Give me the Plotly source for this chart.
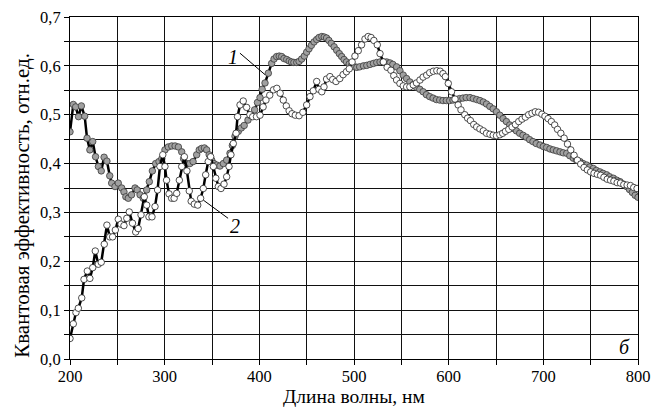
import plotly.graph_objects as go

# Series 1 (grey filled markers)
wl1 = [200, 203.5, 206, 209, 212, 215.5, 218, 221, 224, 227, 230, 233, 236, 239, 242, 244, 247.5, 251, 254.6,
       257, 259, 261.6, 265, 268.7, 271, 274, 277.4, 281, 283.8, 287, 290.5, 294, 297, 300.3, 303.8, 307.5, 311,
       314.5, 318, 320, 323, 326.6, 330, 333.8, 336.5, 339, 342, 344.4, 347, 349.7, 352, 355, 358.4, 362, 365.5,
       369, 371.5, 374.3, 377.8, 381, 384, 388, 391, 395, 398, 400.7, 403, 406, 409.5, 413, 415.5, 418.3, 421,
       423.6, 426, 428.9, 431.5, 434, 436.5, 439.5, 442, 444.7, 447.5, 450, 452.5, 455, 457.8, 460.6, 463, 466,
       468.5, 471, 473.5, 476, 479, 481.7, 484.5, 487, 489.5, 492, 495, 497.6, 500.5, 503, 506, 510, 513.5, 517,
       520.5, 524, 527.5, 531, 534.5, 538, 541, 545, 548.5, 552, 555.5, 559, 562.5, 566, 569.5, 573, 576.5, 580,
       583.5, 587, 590.5, 594, 597.5, 601, 604.5, 608, 611.5, 615, 618.5, 622.5, 626, 629.6, 633, 636.6, 640,
       643.5, 647, 650.5, 654, 657.5, 661, 664.5, 668, 671.5, 675, 678.5, 682, 685.5, 689, 692.5, 696.5, 700,
       703.5, 707, 710.5, 714, 717.6, 721, 724.7, 728, 731.7, 735, 738.7, 742, 745.8, 749, 752.8, 756, 759.8,
       763, 766.9, 770, 774, 777.5, 781, 784.5, 788, 791, 794, 797, 800]
qe1 = [0.465, 0.521, 0.516, 0.496, 0.518, 0.497, 0.452, 0.428, 0.445, 0.414, 0.394, 0.385, 0.413, 0.405, 0.375,
       0.36, 0.353, 0.36, 0.35, 0.342, 0.332, 0.329, 0.336, 0.35, 0.346, 0.336, 0.329, 0.346, 0.363, 0.385, 0.40,
       0.404, 0.41, 0.428, 0.434, 0.436, 0.436, 0.434, 0.424, 0.41, 0.40, 0.40, 0.404, 0.418, 0.428, 0.431, 0.432,
       0.428, 0.418, 0.407, 0.40, 0.397, 0.395, 0.40, 0.407, 0.421, 0.437, 0.456, 0.466, 0.473, 0.478, 0.489,
       0.498, 0.51, 0.525, 0.535, 0.552, 0.565, 0.585, 0.605, 0.614, 0.619, 0.62, 0.619, 0.615, 0.613, 0.61,
       0.608, 0.607, 0.607, 0.609, 0.614, 0.62, 0.628, 0.635, 0.642, 0.649, 0.654, 0.658, 0.66, 0.659, 0.657,
       0.652, 0.646, 0.639, 0.632, 0.625, 0.619, 0.613, 0.608, 0.604, 0.601, 0.598, 0.597, 0.598, 0.6, 0.601,
       0.603, 0.605, 0.607, 0.608, 0.608, 0.608, 0.606, 0.603, 0.598, 0.59, 0.581, 0.574, 0.567, 0.561, 0.556,
       0.552, 0.547, 0.541, 0.537, 0.534, 0.531, 0.53, 0.529, 0.529, 0.529, 0.53, 0.531, 0.533, 0.534, 0.535,
       0.535, 0.533, 0.531, 0.529, 0.526, 0.522, 0.517, 0.512, 0.506, 0.499, 0.492, 0.486, 0.479, 0.472, 0.467,
       0.462, 0.458, 0.454, 0.449, 0.445, 0.441, 0.438, 0.435, 0.433, 0.43, 0.428, 0.426, 0.424, 0.422, 0.421,
       0.416, 0.411, 0.407, 0.404, 0.4, 0.397, 0.393, 0.39, 0.386, 0.383, 0.38, 0.377, 0.373, 0.37, 0.366, 0.363,
       0.358, 0.353, 0.347, 0.341, 0.335, 0.331]

# Series 2 (white open markers)
wl2 = [200, 203.5, 206.3, 208.8, 212.4, 214.8, 218.3, 221, 224, 226.7, 229.9, 233, 236.2, 239, 242, 245, 247.9,
       251, 253.9, 257, 260, 262.6, 266, 269.4, 272, 275, 278.5, 281, 283.4, 286.6, 289.8, 292.5, 295, 298, 300.3,
       302, 304.6, 307.4, 310, 312.7, 315.5, 318, 320.8, 323.5, 326, 328, 331.3, 334.9, 338, 340.8, 343.3, 346,
       348.6, 351.4, 354, 356.7, 359.5, 362.7, 365.5, 368, 370, 372.5, 375.4, 377, 379.6, 383, 386.6, 390, 393,
       397, 400.7, 404, 407, 411, 415, 418.5, 422, 425.3, 428.5, 431.5, 434.5, 438, 442, 446, 450, 453.5, 457,
       460.6, 463, 466, 468.3, 471, 474.6, 477.5, 481, 485, 488.5, 492, 495, 498, 501, 504.5, 508, 511.6, 515,
       518, 521, 524.6, 527.5, 531, 535, 539, 542, 545, 548.5, 552, 555.6, 559, 562.6, 566, 569.7, 573, 576.8,
       580, 583.8, 587.5, 591, 594, 596.5, 599.6, 603, 606.7, 610, 613, 617, 620, 623, 626.5, 629.6, 633, 636.6,
       640, 643.6, 647, 650.5, 654, 657, 660, 663.5, 667, 670.5, 674, 677.5, 681, 684.5, 688, 691.5, 695, 698.5,
       701.7, 705, 708.5, 712, 715, 718.5, 722, 725.5, 729, 732.5, 736, 739.5, 743, 746.5, 750, 753.5, 757,
       760.5, 764, 767.5, 771, 774.5, 778, 781.5, 785, 788.5, 792, 795.5, 799]
qe2 = [0.042, 0.072, 0.095, 0.104, 0.125, 0.163, 0.18, 0.165, 0.187, 0.221, 0.194, 0.198, 0.235, 0.274, 0.25,
       0.25, 0.264, 0.286, 0.276, 0.273, 0.288, 0.301, 0.278, 0.26, 0.267, 0.295, 0.332, 0.315, 0.291, 0.291,
       0.312, 0.346, 0.394, 0.418, 0.394, 0.366, 0.338, 0.329, 0.329, 0.339, 0.366, 0.394, 0.414, 0.385, 0.344,
       0.323, 0.317, 0.315, 0.329, 0.349, 0.377, 0.404, 0.414, 0.394, 0.37, 0.353, 0.349, 0.358, 0.373, 0.394,
       0.418, 0.441, 0.462, 0.496, 0.52, 0.528, 0.515, 0.5, 0.496, 0.496, 0.499, 0.516, 0.53, 0.54, 0.551,
       0.554, 0.544, 0.53, 0.518, 0.508, 0.502, 0.499, 0.498, 0.505, 0.52, 0.537, 0.549, 0.568, 0.552, 0.547,
       0.557, 0.573, 0.578, 0.572, 0.568, 0.574, 0.582, 0.588, 0.594, 0.608, 0.62, 0.631, 0.643, 0.655, 0.66,
       0.658, 0.652, 0.643, 0.625, 0.608, 0.597, 0.591, 0.58, 0.571, 0.564, 0.559, 0.557, 0.557, 0.561, 0.565,
       0.571, 0.577, 0.581, 0.586, 0.589, 0.59, 0.589, 0.584, 0.578, 0.564, 0.547, 0.532, 0.52, 0.51, 0.5,
       0.493, 0.488, 0.48, 0.475, 0.471, 0.467, 0.462, 0.46, 0.458, 0.457, 0.459, 0.462, 0.466, 0.47, 0.475,
       0.48, 0.486, 0.491, 0.495, 0.5, 0.503, 0.506, 0.505, 0.501, 0.497, 0.492, 0.486, 0.479, 0.47, 0.462,
       0.452, 0.44, 0.428, 0.417, 0.407, 0.399, 0.392, 0.387, 0.383, 0.38, 0.378, 0.376, 0.372, 0.368, 0.366,
       0.364, 0.361, 0.36, 0.357, 0.356, 0.355, 0.351, 0.349]

x_ticks = [200, 300, 400, 500, 600, 700, 800]
y_ticks = [0.0, 0.1, 0.2, 0.3, 0.4, 0.5, 0.6, 0.7]
x_title = "Длина волны, нм"
y_title = "Квантовая эффективность, отн.ед."

FONT = "Liberation Serif, Times New Roman, serif"

fig = go.Figure()
fig.add_trace(go.Scatter(
    x=wl1, y=qe1, mode="lines+markers",
    line=dict(color="black", width=2.5),
    marker=dict(size=6.5, color="#a0a0a0", line=dict(color="#3a3a3a", width=0.8)),
    showlegend=False))
fig.add_trace(go.Scatter(
    x=wl2, y=qe2, mode="lines+markers",
    line=dict(color="black", width=2.5),
    marker=dict(size=6.5, color="white", line=dict(color="#222222", width=0.8)),
    showlegend=False))

axis_common = dict(
    showline=True, linecolor="black", linewidth=1, mirror=True,
    showgrid=True, gridcolor="#111111", gridwidth=1,
    ticks="outside", ticklen=5, tickcolor="black", tickwidth=1,
    zeroline=False, automargin=False,
    tickfont=dict(family=FONT, size=16.5, color="black"),
)

fig.update_layout(
    width=653, height=408,
    margin=dict(l=70, r=15, t=17, b=49),
    paper_bgcolor="white", plot_bgcolor="white",
    separators=", ",
    font=dict(family=FONT, color="black"),
    xaxis=dict(range=[200, 800], tickvals=x_ticks, ticklabelstandoff=-3,
               minor=dict(dtick=50, tick0=200, ticks="outside", ticklen=5, tickcolor="black",
                          showgrid=True, gridcolor="#111111", gridwidth=1),
               **axis_common),
    yaxis=dict(range=[0, 0.7], tickvals=y_ticks, tickformat=".1f",
               minor=dict(dtick=0.05, tick0=0, ticks="outside", ticklen=5, tickcolor="black",
                          showgrid=True, gridcolor="#111111", gridwidth=1),
               **axis_common),
)

# axis titles
fig.add_annotation(xref="paper", yref="paper", x=0.5, y=-0.1433, text=x_title, showarrow=False,
                   xanchor="center", yanchor="bottom", borderpad=0,
                   font=dict(family=FONT, size=19.5, color="black"))
fig.add_annotation(xref="paper", yref="paper", x=-0.085, y=0.45, text=y_title, showarrow=False,
                   textangle=-90, xanchor="center", yanchor="middle",
                   font=dict(family=FONT, size=21, color="black"))

fig.add_annotation(x=372, y=0.618, text="<i>1</i>", showarrow=False,
                   font=dict(family=FONT, size=20, color="black"))
fig.add_annotation(x=374, y=0.272, text="<i>2</i>", showarrow=False,
                   font=dict(family=FONT, size=20, color="black"))
fig.add_annotation(x=786, y=0.024, text="<i>б</i>", showarrow=False,
                   font=dict(family=FONT, size=20, color="black"))
fig.add_shape(type="line", x0=379.5, y0=0.626, x1=406, y1=0.582,
              line=dict(color="black", width=1))
fig.add_shape(type="line", x0=341, y0=0.325, x1=367, y1=0.288,
              line=dict(color="black", width=1))

fig.write_html("out.html")
